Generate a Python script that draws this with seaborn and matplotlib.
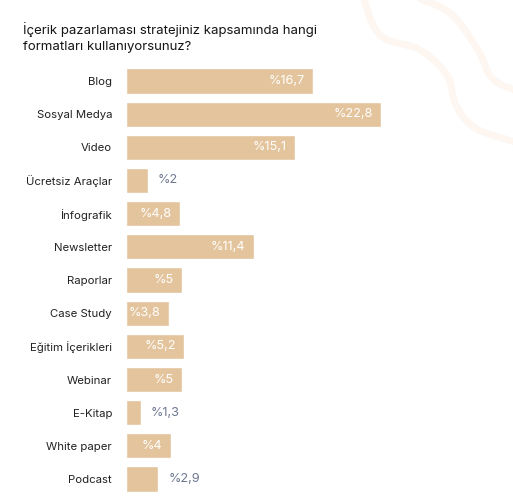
import numpy as np
import pandas as pd
import matplotlib
matplotlib.use("Agg")
import matplotlib.pyplot as plt
from matplotlib.lines import Line2D
import seaborn as sns

title = "İçerik pazarlaması stratejiniz kapsamında hangi\nformatları kullanıyorsunuz?"
categories = ["Blog", "Sosyal Medya", "Video", "Ücretsiz Araçlar", "İnfografik",
              "Newsletter", "Raporlar", "Case Study", "Eğitim İçerikleri",
              "Webinar", "E-Kitap", "White paper", "Podcast"]
values = [16.7, 22.8, 15.1, 2, 4.8, 11.4, 5, 3.8, 5.2, 5, 1.3, 4, 2.9]
value_labels = ["%16,7", "%22,8", "%15,1", "%2", "%4,8", "%11,4", "%5",
                "%3,8", "%5,2", "%5", "%1,3", "%4", "%2,9"]

BAR = "#e3c49c"
OUT_TXT = "#6e7891"

sns.set_style("white")
plt.rcParams["font.family"] = ["Inter", "DejaVu Sans"]

df = pd.DataFrame({"format": categories, "value": values})

fig = plt.figure(figsize=(5.13, 5.01), dpi=100)
W, H = 513, 501


def wave(pts, color="#fdf6f1", lw=5):
    """faint background squiggle (catmull-rom through pixel points)"""
    p = np.array(pts, dtype=float)
    p = np.vstack([2 * p[0] - p[1], p, 2 * p[-1] - p[-2]])
    t = np.linspace(0, 1, 20)[:, None]
    out = []
    for i in range(1, len(p) - 2):
        p0, p1, p2, p3 = p[i - 1], p[i], p[i + 1], p[i + 2]
        seg = 0.5 * (2 * p1 + (-p0 + p2) * t + (2 * p0 - 5 * p1 + 4 * p2 - p3) * t ** 2
                     + (-p0 + 3 * p1 - 3 * p2 + p3) * t ** 3)
        out.append(seg)
    c = np.vstack(out)
    fig.add_artist(Line2D(c[:, 0] / W, 1 - c[:, 1] / H, color=color, lw=lw,
                          transform=fig.transFigure, solid_capstyle="round",
                          zorder=0))


wave([(362, -5), (380, 35), (420, 50), (447, 75), (456, 105),
      (475, 128), (518, 143)])
wave([(410, -5), (450, 13), (478, 50), (492, 78), (518, 92)])

x0 = 126 / W
scale = 11.2  # px per percent
xmax = 30
top_px, bot_px = 64.4, 495.6
ax = fig.add_axes([x0, 1 - bot_px / H, xmax * scale / W, (bot_px - top_px) / H])
ax.patch.set_alpha(0)

sns.barplot(data=df, x="value", y="format", color=BAR, saturation=1,
            width=0.76, ax=ax, orient="h")
ax.set_xlim(0, xmax)
ax.set_xlabel("")
ax.set_ylabel("")
ax.set_xticks([])
ax.tick_params(axis="y", length=0, pad=10, labelsize=8.2, labelcolor="#222222")
sns.despine(ax=ax, left=True, bottom=True)

for i, (v, lab) in enumerate(zip(values, value_labels)):
    if v >= 3.5:
        ax.annotate(lab, (v, i), xytext=(-6, 0), textcoords="offset points",
                    ha="right", va="center", color="white", fontsize=9.2)
    else:
        ax.annotate(lab, (v, i), xytext=(7, 0), textcoords="offset points",
                    ha="left", va="center", color=OUT_TXT, fontsize=9.2)

fig.text(23 / W, 1 - 22 / H, title, ha="left", va="top", fontsize=9.5,
         color="#141414", linespacing=1.4)

fig.savefig("out.png", dpi=100)
